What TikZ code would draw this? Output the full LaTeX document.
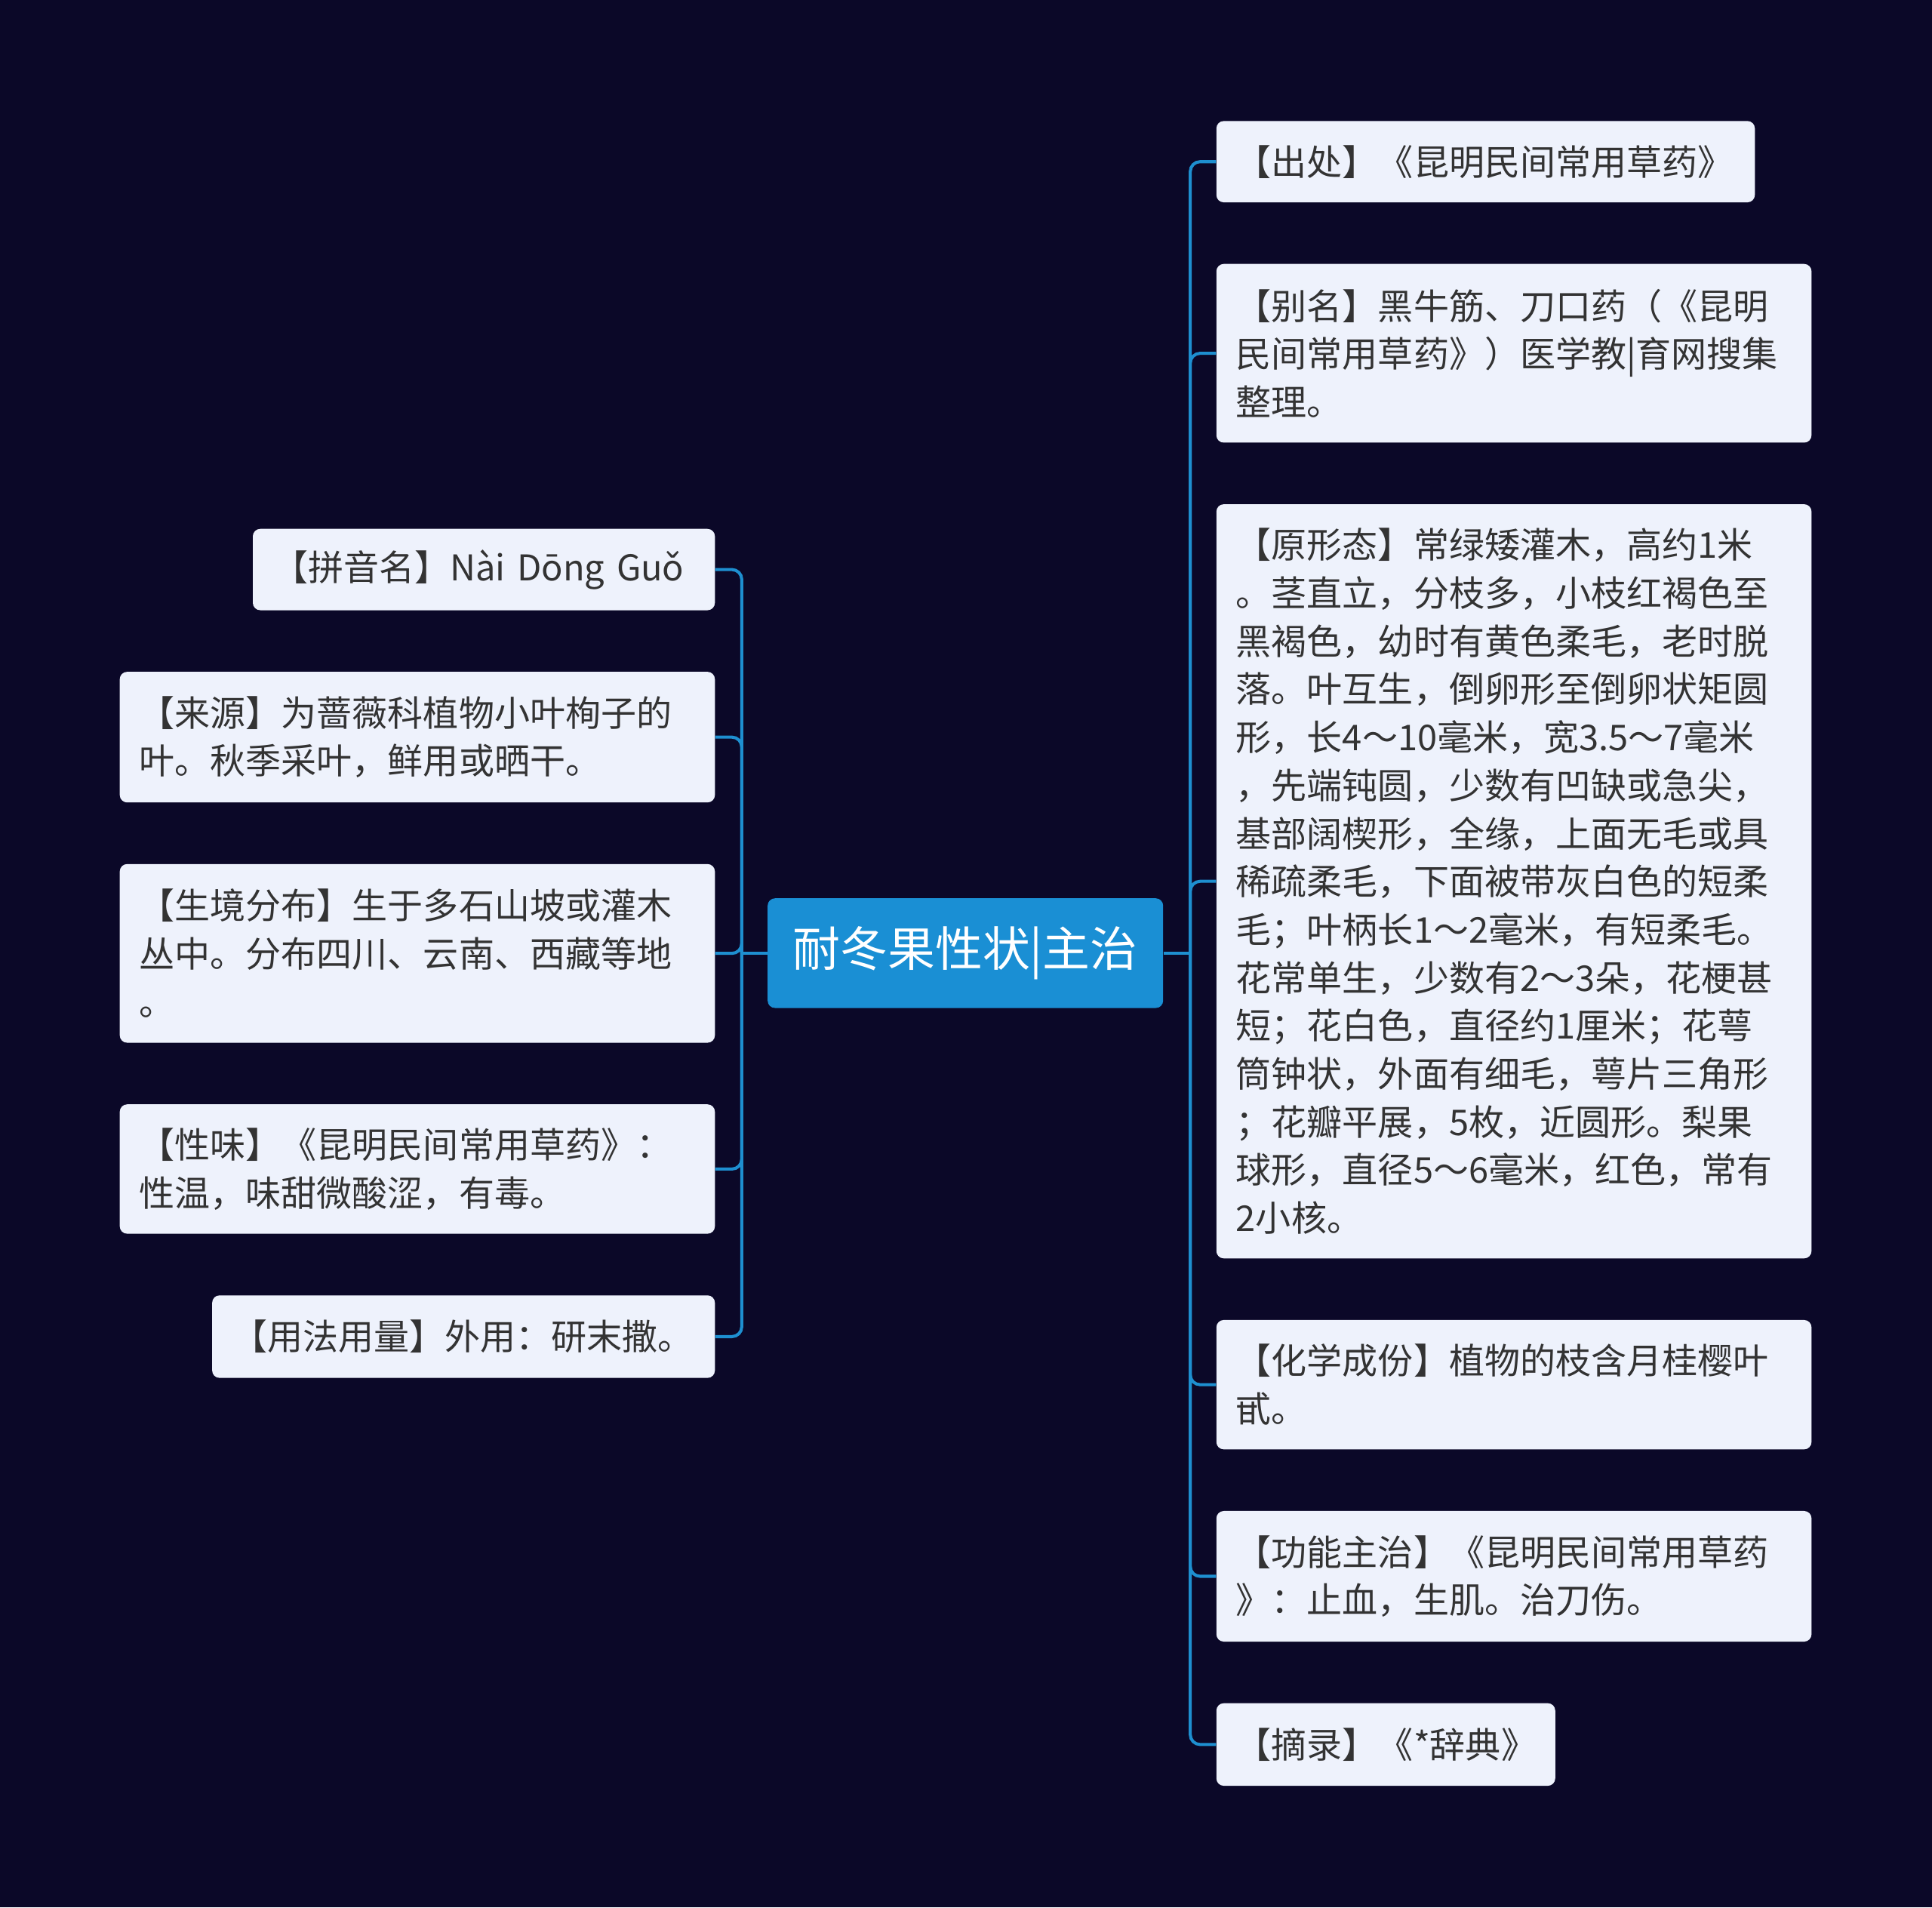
\documentclass[tikz,border=0pt]{standalone}
\usepackage{fontspec}
\setmainfont{Noto Sans CJK SC}
\begin{document}
\begin{tikzpicture}[x=1pt,y=-1pt,
  leaf/.style={fill=leaffill,rounded corners=6pt,anchor=north west,align=left,inner xsep=16pt,inner ysep=4pt,text=leaftext,font=\fontsize{28.8}{39}\selectfont},
  conn/.style={draw=linec,line width=2.5pt,rounded corners=8pt}]
\definecolor{bg}{HTML}{0B0828}
\definecolor{leaffill}{HTML}{EEF2FC}
\definecolor{leaftext}{HTML}{333333}
\definecolor{linec}{HTML}{1E8FD0}
\definecolor{rootc}{HTML}{1A8FD4}
\fill[bg] (0,0) rectangle (1568,1548);
\useasboundingbox (0,0) rectangle (1568,1548);
\newcommand{\leafnode}[6]{\node[leaf,text width=#4-32pt,minimum height=#5] (#1) at (#2,#3) {#6};}
\node[fill=rootc,rounded corners=6pt,text=white,minimum width=321pt,minimum height=89pt,font=\fontsize{38.5}{42}\selectfont] (root) at (783.5,773.5) {耐冬果性状|主治};
\leafnode{l1}{205}{429}{375}{66}{【拼音名】Nài Dōng Guǒ}
\leafnode{l2}{97}{545}{483}{106}{【来源】为蔷薇科植物小叶栒子的\\叶。秋季采叶，鲜用或晒干。}
\leafnode{l3}{97}{701}{483}{145}{【生境分布】生于多石山坡或灌木\\丛中。分布四川、云南、西藏等地\\。}
\leafnode{l4}{97}{896}{483}{105}{【性味】《昆明民间常用草药》：\\性温，味甜微酸涩，有毒。}
\leafnode{l5}{172}{1051}{408}{67}{【用法用量】外用：研末撒。}
\leafnode{r1}{987}{98}{437}{66}{【出处】《昆明民间常用草药》}
\leafnode{r2}{987}{214}{483}{145}{【别名】黑牛筋、刀口药（《昆明\\民间常用草药》）医学教|育网搜集\\整理。}
\leafnode{r3}{987}{409}{483}{612}{【原形态】常绿矮灌木，高约1米\\。茎直立，分枝多，小枝红褐色至\\黑褐色，幼时有黄色柔毛，老时脱\\落。叶互生，倒卵形至倒卵状矩圆\\形，长4～10毫米，宽3.5～7毫米\\，先端钝圆，少数有凹缺或急尖，\\基部阔楔形，全缘，上面无毛或具\\稀疏柔毛，下面被带灰白色的短柔\\毛；叶柄长1～2毫米，有短柔毛。\\花常单生，少数有2～3朵，花梗甚\\短；花白色，直径约1厘米；花萼\\筒钟状，外面有细毛，萼片三角形\\；花瓣平展，5枚，近圆形。梨果\\球形，直径5～6毫米，红色，常有\\2小核。}
\leafnode{r4}{987}{1071}{483}{105}{【化学成份】植物的枝含月桂樱叶\\甙。}
\leafnode{r5}{987}{1226}{483}{106}{【功能主治】《昆明民间常用草药\\》：止血，生肌。治刀伤。}
\leafnode{r6}{987}{1382}{275}{67}{【摘录】《*辞典》}
\coordinate (lm) at (602,773.5);
\coordinate (rm) at (966,773.5);
\draw[conn] (root.west) -- (lm);
\draw[conn] (root.east) -- (rm);
\foreach \n in {l1,l2,l3,l4,l5} \draw[conn] (lm) |- (\n.east);
\foreach \n in {r1,r2,r3,r4,r5,r6} \draw[conn] (rm) |- (\n.west);
\end{tikzpicture}
\end{document}
